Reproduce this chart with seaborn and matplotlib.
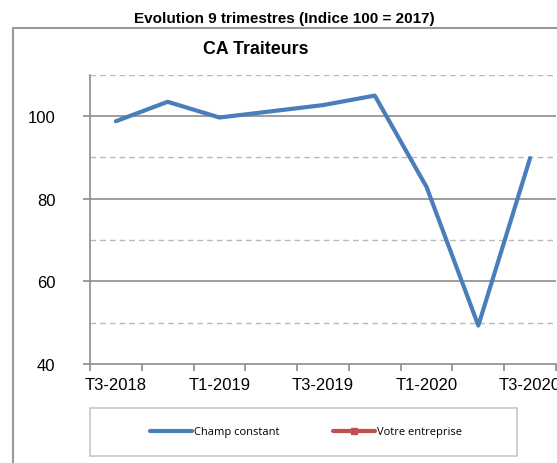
import pandas as pd
import seaborn as sns
import matplotlib.pyplot as plt
from matplotlib.lines import Line2D
from matplotlib.patches import Rectangle

trimestres = ["T3-2018", "T4-2018", "T1-2019", "T2-2019", "T3-2019",
              "T4-2019", "T1-2020", "T2-2020", "T3-2020"]
champ_constant = [98.7, 103.4, 99.6, 101.1, 102.6, 104.9, 82.8, 49.3, 89.8]
etiquettes_x = ["T3-2018", "", "T1-2019", "", "T3-2019", "", "T1-2020", "", "T3-2020"]

df = pd.DataFrame({"pos": range(len(trimestres)),
                   "Trimestre": trimestres,
                   "Champ constant": champ_constant})

sns.set_theme(style="white")
plt.rcParams["font.family"] = ["Liberation Sans", "DejaVu Sans"]
plt.rcParams["text.color"] = "black"
plt.rcParams["xtick.labelcolor"] = "black"
plt.rcParams["ytick.labelcolor"] = "black"

fig = plt.figure(figsize=(5.57, 4.64), dpi=100)
W, H = 557, 464
ax = fig.add_axes([90 / W, (H - 365) / H, (556 - 90) / W, (365 - 75.5) / H])

bleu = "#4a7ebb"
rouge = "#c0504d"

# grille : traits pleins sur les graduations, pointillés entre
for v in [110, 90, 70, 50]:
    ax.axhline(v, color="#b8b8b8", lw=1, ls=(0, (4, 3)), zorder=0)
for v in [100, 80, 60]:
    ax.axhline(v, color="#8c8c8c", lw=1.2, zorder=0)

sns.lineplot(data=df, x="pos", y="Champ constant", color=bleu, lw=3,
             ax=ax, legend=False)

ax.set_xlim(-0.5, 8.5)
ax.set_ylim(40, 110)
ax.set_yticks([40, 60, 80, 100])
ax.set_xticks([i - 0.5 for i in range(10)], minor=False)
ax.set_xticklabels([])
ax.set_xticks(range(9), minor=True)
ax.set_xticklabels(etiquettes_x, minor=True)
ax.tick_params(axis="x", which="major", direction="out", length=5,
               color="#8c8c8c", width=1.2, bottom=True)
ax.tick_params(axis="x", which="minor", length=0, labelsize=12, pad=9.5)
ax.tick_params(axis="y", direction="out", length=5, color="#8c8c8c",
               width=1.2, labelsize=12, left=True, pad=20)
ax.set_xlabel("")
ax.set_ylabel("")
for s in ["top", "right"]:
    ax.spines[s].set_visible(False)
for s in ["left", "bottom"]:
    ax.spines[s].set_color("#8c8c8c")
    ax.spines[s].set_linewidth(1.2)

fig.text(284 / W, 1 - 19 / H, "Evolution 9 trimestres (Indice 100 = 2017)",
         ha="center", va="center", fontsize=11, fontweight="bold")
fig.text(256 / W, 1 - 49 / H, "CA Traiteurs", ha="center", va="center",
         fontsize=12.8, fontweight="bold")

# cadre extérieur du graphique
fig.patches.append(Rectangle((13.5 / W, -0.1), 1.2, 1 - 29.3 / H + 0.1,
                             transform=fig.transFigure, fill=False,
                             edgecolor="#9a9a9a", lw=1.5))
# cadre de la légende
fig.patches.append(Rectangle((90 / W, (H - 457) / H), (517 - 90) / W, 48 / H,
                             transform=fig.transFigure, fill=False,
                             edgecolor="#c8c8c8", lw=1.2))

poignees = [Line2D([], [], color=bleu, lw=3),
            Line2D([], [], color=rouge, lw=3, marker="s", markersize=5)]
fig.legend(poignees, ["Champ constant", "Votre entreprise"], ncol=2,
           loc="center", bbox_to_anchor=(306 / W, 1 - 433 / H),
           frameon=False, handlelength=3.8, handletextpad=0.2,
           columnspacing=4.8, prop={"family": "Open Sans", "size": 8},
           labelcolor="black")

fig.savefig("out.png", dpi=100)
